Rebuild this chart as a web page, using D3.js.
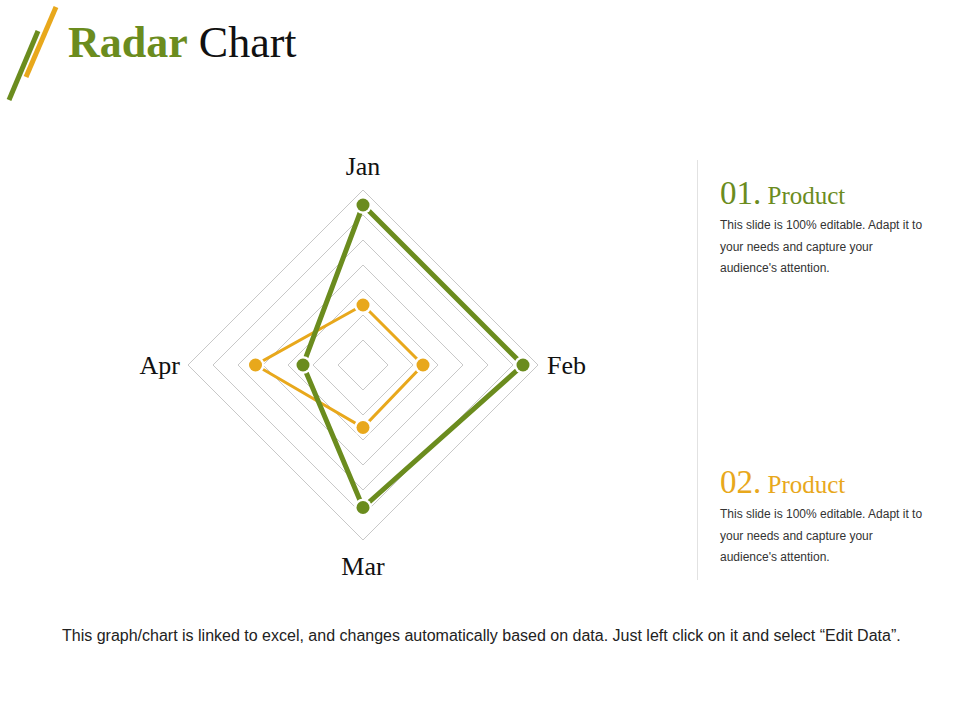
<!DOCTYPE html>
<html><head><meta charset="utf-8">
<script src="https://cdn.jsdelivr.net/npm/d3@7"></script>
<style>body{margin:0;background:#fff;}svg{display:block;}</style>
</head><body>
<script>
const categories = ["Jan", "Feb", "Mar", "Apr"];
const seriesNames = ["Product 01", "Product 02"];
const product1 = [64, 64, 57, 24];
const product2 = [24, 24, 25, 43];
const ringTicks = [10, 20, 30, 40, 50, 60, 70];
const legendNumbers = ["01.", "02."];
const legendBody = ["This slide is 100% editable. Adapt it to", "your needs and capture your", "audience's attention."];

const W = 960, H = 720;
const green = "#6b8c1e", orange = "#e8a81c";
const svg = d3.select("body").append("svg").attr("width", W).attr("height", H);

// decorative slashes
svg.append("line").attr("x1", 9).attr("y1", 100).attr("x2", 38).attr("y2", 31)
  .attr("stroke", green).attr("stroke-width", 5);
svg.append("line").attr("x1", 26).attr("y1", 77).attr("x2", 56).attr("y2", 7)
  .attr("stroke", orange).attr("stroke-width", 5);

const title = svg.append("text").attr("x", 68).attr("y", 57)
  .attr("font-family", "Liberation Serif, serif").attr("font-size", 44);
title.append("tspan").attr("fill", green).attr("font-weight", "bold").text("Radar");
title.append("tspan").attr("fill", "#111").text(" Chart");

// radar
const cx = 363, cy = 365, R = 175;
const r = d3.scaleLinear().domain([0, 70]).range([0, R]);
const angle = d3.scalePoint().domain(categories).range([0, 2 * Math.PI * 3 / 4]);
const pt = (cat, v) => {
  const a = angle(cat) - Math.PI / 2;
  return [cx + r(v) * Math.cos(a), cy + r(v) * Math.sin(a)];
};
const g = svg.append("g");
ringTicks.forEach(t => {
  g.append("polygon")
    .attr("points", categories.map(c => pt(c, t).join(",")).join(" "))
    .attr("fill", "none").attr("stroke", "#c8c8c8").attr("stroke-width", 1);
});

const series = [{vals: product2, color: orange, w: 3}, {vals: product1, color: green, w: 5}];
series.forEach(s => {
  const pts = categories.map((c, i) => pt(c, s.vals[i]));
  g.append("path").attr("d", d3.line()(pts.concat([pts[0]])))
    .attr("fill", "none").attr("stroke", s.color).attr("stroke-width", s.w)
    .attr("stroke-linejoin", "miter");
  g.selectAll(null).data(pts).enter().append("circle")
    .attr("cx", d => d[0]).attr("cy", d => d[1]).attr("r", 9)
    .attr("fill", "#fff");
  g.selectAll(null).data(pts).enter().append("circle")
    .attr("cx", d => d[0]).attr("cy", d => d[1]).attr("r", 6.5)
    .attr("fill", s.color);
});

// axis labels
const lab = [
  {c: "Jan", x: cx, y: 175, a: "middle"},
  {c: "Feb", x: 547, y: 374, a: "start"},
  {c: "Mar", x: cx, y: 575, a: "middle"},
  {c: "Apr", x: 180, y: 374, a: "end"}
];
svg.selectAll(null).data(lab).enter().append("text")
  .attr("x", d => d.x).attr("y", d => d.y).attr("text-anchor", d => d.a)
  .attr("font-family", "Liberation Serif, serif").attr("font-size", 26).attr("fill", "#111")
  .text(d => d.c);

// divider
svg.append("line").attr("x1", 697.5).attr("x2", 697.5).attr("y1", 160).attr("y2", 580)
  .attr("stroke", "#e2e2e2").attr("stroke-width", 1);

// legend blocks
const blocks = [{n: legendNumbers[0], color: green, y: 204}, {n: legendNumbers[1], color: orange, y: 493}];
blocks.forEach(b => {
  const t = svg.append("text").attr("x", 720).attr("y", b.y)
    .attr("font-family", "Liberation Serif, serif").attr("fill", b.color);
  t.append("tspan").attr("font-size", 33).text(b.n);
  t.append("tspan").attr("font-size", 25).text(" Product");
  legendBody.forEach((line, i) => {
    svg.append("text").attr("x", 720).attr("y", b.y + 25 + i * 21.5)
      .attr("font-family", "Liberation Sans, Arial, sans-serif").attr("font-size", 12)
      .attr("fill", "#333").text(line);
  });
});

svg.append("text").attr("x", 62).attr("y", 641)
  .attr("font-family", "Liberation Sans, Arial, sans-serif").attr("font-size", 16)
  .attr("fill", "#222")
  .text("This graph/chart is linked to excel, and changes automatically based on data. Just left click on it and select \u201cEdit Data\u201d.");
</script>
</body></html>
